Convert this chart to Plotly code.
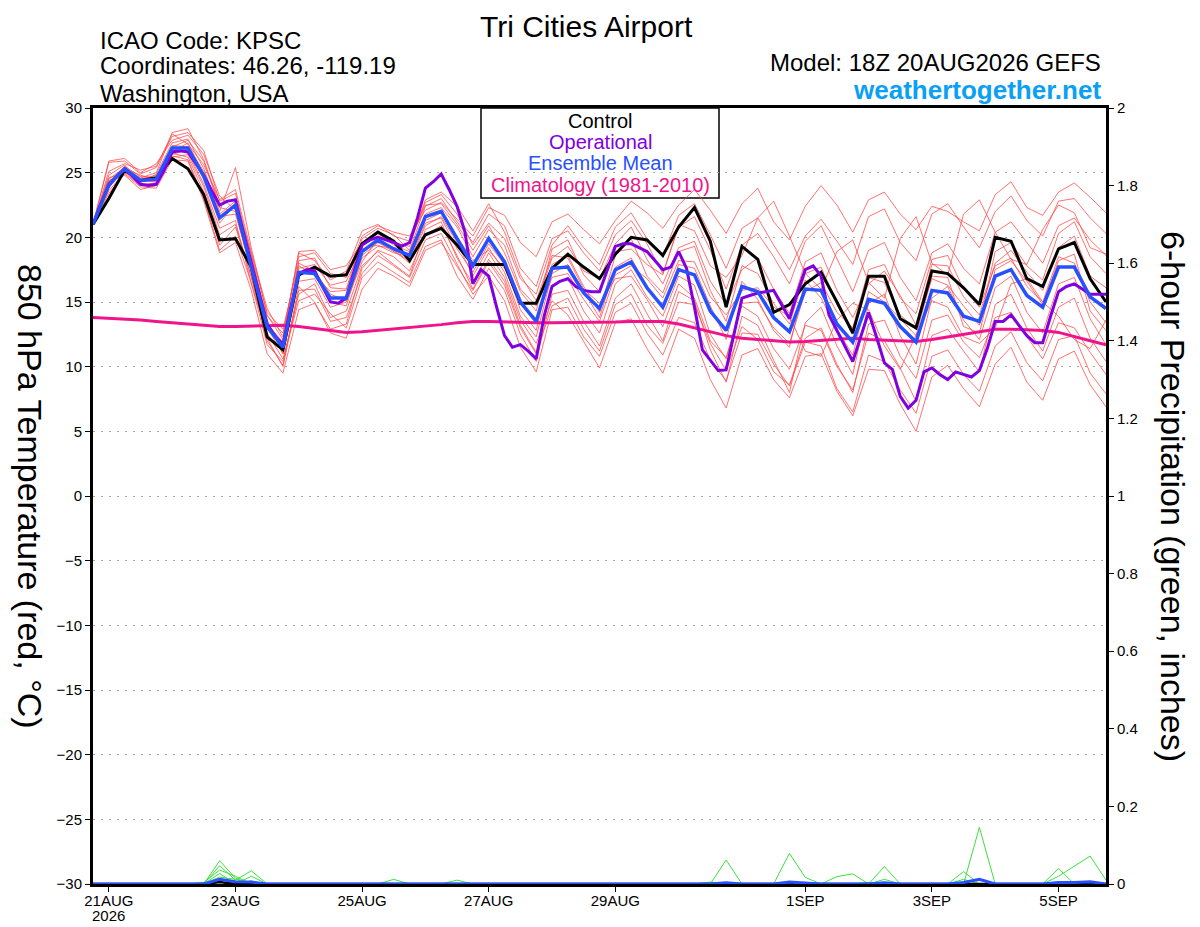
import pandas as pd
import plotly.graph_objects as go

# 6-hourly GEFS output from 18Z 20AUG2026 to 18Z 05SEP2026 (65 steps);
# the operational run is plotted at 3-hourly resolution (129 steps)
START = "2026-08-20 18:00"
times6 = pd.date_range(START, periods=65, freq="6h")
times3 = pd.date_range(START, periods=129, freq="3h")

control = [
    21.0,
    23.0, 25.2, 24.4, 24.6,
    26.1, 25.3, 23.3, 19.8,
    19.9, 17.7, 12.3, 11.3,
    17.1, 17.7, 17.0, 17.1,
    19.5, 20.4, 19.7, 18.2,
    20.2, 20.7, 19.4, 17.9,
    17.9, 17.9, 14.9, 14.9,
    17.6, 18.7, 17.7, 16.8,
    18.7, 20.0, 19.8, 18.6,
    20.8, 22.3, 19.7, 14.6,
    19.3, 18.3, 14.2, 14.8,
    16.4, 17.3, 15.0, 12.6,
    17.0, 17.0, 13.7, 13.0,
    17.4, 17.2, 16.1, 14.8,
    20.0, 19.7, 16.8, 16.2,
    19.1, 19.6, 16.8, 15.0,
]

ens_mean = [
    21.0,
    24.1, 25.3, 24.4, 24.5,
    26.9, 26.9, 24.7, 21.5,
    22.5, 17.7, 13.1, 11.5,
    17.3, 17.2, 15.3, 15.3,
    18.9, 19.8, 19.1, 18.6,
    21.6, 22.0, 19.9, 17.8,
    19.9, 18.1, 15.0, 13.5,
    17.6, 17.7, 15.7, 14.5,
    17.5, 18.1, 16.1, 14.6,
    17.5, 17.1, 14.3, 12.8,
    16.2, 15.8, 13.8, 12.7,
    16.0, 15.9, 13.3, 11.9,
    15.2, 14.9, 13.1, 11.9,
    15.9, 15.7, 13.9, 13.5,
    17.0, 17.5, 15.5, 14.6,
    17.7, 17.7, 15.4, 14.5,
]

operational = [
    21.0,
    22.6, 24.0, 24.7, 25.3, 24.7, 24.1, 24.0, 24.1,
    25.2, 26.6, 26.7, 26.6, 25.7, 24.8, 23.6, 22.5,
    22.8, 22.9, 20.4, 18.0, 15.6, 13.3, 12.4, 11.7,
    14.6, 17.2, 17.5, 17.4, 16.2, 15.0, 14.9, 15.3,
    17.4, 19.4, 19.8, 20.0, 19.8, 19.6, 19.3, 19.6,
    21.5, 23.8, 24.3, 24.9, 23.7, 22.4, 20.4, 16.4,
    17.5, 17.0, 14.6, 12.4, 11.5, 11.7, 11.2, 10.6,
    13.9, 16.2, 16.6, 16.8, 16.2, 15.9, 15.8, 15.8,
    17.5, 19.3, 19.5, 19.5, 19.2, 18.9, 18.2, 17.5,
    17.7, 18.9, 17.6, 14.6, 11.3, 10.5, 9.7, 9.75,
    12.5, 15.3, 15.5, 15.7, 15.8, 15.9, 14.8, 13.7,
    15.7, 17.5, 17.8, 17.0, 14.0, 12.8, 11.5, 10.4,
    12.3, 14.2, 12.3, 10.3, 9.8, 7.7, 6.8, 7.4,
    9.6, 9.9, 9.4, 9.0, 9.6, 9.4, 9.2, 9.7,
    11.4, 13.5, 13.5, 14.0, 13.2, 12.4, 11.85, 11.85,
    13.9, 15.8, 16.2, 16.4, 16.0, 15.6, 15.6, 15.6,
]

climatology = [
    13.8,
    13.75, 13.7, 13.6, 13.5,
    13.4, 13.3, 13.2, 13.1,
    13.1, 13.15, 13.2, 13.2,
    13.1, 12.95, 12.8, 12.65,
    12.7, 12.8, 12.9, 13.0,
    13.1, 13.25, 13.4, 13.5,
    13.5, 13.45, 13.4, 13.4,
    13.4, 13.4, 13.4, 13.4,
    13.45, 13.5, 13.5, 13.5,
    13.3, 13.0, 12.7, 12.4,
    12.2, 12.1, 12.0, 11.9,
    11.95, 12.05, 12.15, 12.2,
    12.1, 12.05, 12.0, 11.95,
    12.1, 12.3, 12.5, 12.7,
    12.9, 12.9, 12.85, 12.8,
    12.65, 12.3, 12.0, 11.7,
]

member_01 = [21.0, 25.8, 25.9, 24.9, 25.4, 27.8, 28.1, 26.7, 22.8, 23.4, 18.6, 13.6, 11.0,
             18.2, 18.4, 16.1, 16.0, 19.9, 20.7, 20.2, 19.0, 22.4, 23.0, 21.2, 19.6, 21.8, 20.9,
             17.6, 16.2, 19.9, 20.5, 18.8, 17.4, 20.2, 21.3, 19.5, 17.2, 20.8, 21.6, 19.0, 16.0,
             19.4, 20.3, 18.5, 16.4, 19.7, 20.9, 18.3, 15.8, 19.0, 19.6, 16.9, 15.1, 18.8, 19.5,
             17.6, 16.4, 20.4, 21.2, 19.6, 18.0, 20.9, 21.5, 19.8, 18.6]
member_02 = [21.0, 23.6, 25.0, 24.0, 24.1, 26.5, 26.2, 23.5, 19.4, 20.8, 16.9, 12.2, 10.0,
             15.9, 16.0, 13.5, 13.8, 17.2, 18.6, 17.8, 16.9, 19.8, 20.3, 18.0, 15.6, 17.0, 15.1,
             11.5, 9.6, 14.4, 14.6, 12.3, 10.8, 14.2, 14.9, 12.6, 10.9, 13.8, 13.4, 10.5, 8.9,
             12.6, 12.5, 10.2, 8.5, 11.9, 11.6, 8.3, 6.5, 10.9, 10.4, 8.2, 6.4, 10.8, 11.3,
             9.4, 8.1, 11.6, 12.7, 10.3, 8.9, 12.1, 12.4, 9.5, 7.9]
member_03 = [21.0, 24.8, 25.6, 24.2, 24.9, 27.3, 27.6, 25.3, 22.0, 25.4, 19.2, 14.0, 12.1,
             18.9, 19.0, 17.5, 17.8, 19.6, 20.1, 19.6, 19.3, 22.9, 23.5, 22.4, 20.5, 22.6, 20.4,
             17.1, 15.1, 18.6, 18.4, 16.0, 14.9, 16.8, 17.0, 15.2, 13.1, 16.4, 15.3, 12.0, 10.7,
             14.9, 15.0, 13.0, 11.8, 15.8, 16.5, 14.2, 13.0, 17.5, 17.9, 15.3, 14.1, 18.3, 18.6,
             16.0, 14.6, 17.8, 18.4, 16.2, 15.0, 18.5, 18.0, 15.0, 13.4]
member_04 = [21.0, 24.5, 25.4, 24.6, 25.0, 28.1, 28.4, 26.0, 22.5, 23.0, 18.0, 13.9, 12.6,
             18.5, 18.8, 17.2, 16.9, 20.1, 20.9, 20.4, 20.1, 22.1, 22.7, 21.4, 20.1, 22.3, 21.7,
             19.6, 18.5, 21.2, 21.8, 20.6, 19.5, 21.3, 22.8, 21.9, 20.7, 22.5, 23.7, 22.1, 20.3,
             22.6, 23.8, 21.2, 19.8, 22.4, 24.0, 22.5, 20.4, 22.9, 23.5, 21.8, 20.6, 22.4, 22.0,
             21.2, 20.5, 23.3, 24.3, 22.3, 21.7, 23.5, 24.2, 23.1, 21.9]
member_05 = [21.0, 23.4, 24.9, 23.9, 23.8, 26.0, 25.9, 22.8, 18.8, 19.6, 15.9, 11.0, 9.5,
             14.4, 14.9, 12.9, 13.3, 17.6, 19.0, 18.5, 17.4, 20.2, 20.9, 18.6, 16.0, 18.3, 16.6,
             13.2, 11.1, 16.3, 16.9, 14.3, 12.6, 16.4, 17.5, 15.4, 13.9, 17.0, 16.3, 12.5, 10.6,
             14.7, 13.9, 11.4, 9.8, 13.2, 12.8, 10.0, 8.2, 12.6, 12.0, 9.9, 7.3, 12.4, 12.9,
             11.2, 9.6, 14.8, 15.6, 13.0, 11.2, 14.6, 15.3, 12.2, 10.4]
member_06 = [21.0, 24.0, 25.1, 24.3, 24.4, 27.0, 27.5, 25.9, 22.3, 22.0, 17.3, 12.9, 11.9,
             17.8, 17.1, 15.8, 15.9, 19.3, 20.3, 19.4, 18.9, 21.8, 22.3, 20.8, 18.5, 20.6, 19.4,
             16.0, 14.7, 18.4, 19.3, 17.4, 16.8, 19.5, 20.8, 18.3, 16.4, 19.2, 19.7, 16.6, 14.8,
             17.5, 18.4, 16.0, 14.1, 18.1, 18.8, 15.9, 13.8, 16.4, 17.4, 15.5, 13.2, 17.9, 17.8,
             15.4, 14.0, 18.0, 19.0, 17.3, 15.9, 19.2, 20.1, 17.0, 16.1]
member_07 = [21.0, 24.3, 25.5, 24.7, 24.6, 26.7, 26.6, 24.1, 20.7, 21.3, 16.4, 12.6, 10.6,
             15.1, 15.6, 14.1, 13.0, 16.9, 18.1, 17.3, 16.5, 19.3, 19.8, 17.0, 15.2, 17.6, 15.9,
             12.5, 10.4, 15.6, 15.9, 13.5, 11.6, 15.3, 16.4, 14.1, 12.0, 15.8, 15.1, 11.3, 8.8,
             13.9, 13.2, 10.5, 8.0, 13.4, 14.6, 11.6, 9.4, 14.9, 15.6, 12.4, 10.2, 15.3, 16.2,
             13.6, 12.1, 16.1, 17.0, 14.2, 12.6, 16.4, 16.9, 13.7, 11.7]
member_08 = [21.0, 25.9, 26.1, 25.0, 25.7, 27.5, 27.9, 26.4, 23.2, 22.1, 18.3, 13.4, 11.2,
             17.0, 17.6, 15.0, 14.7, 18.6, 19.6, 18.9, 18.2, 21.1, 21.5, 19.1, 17.3, 19.5, 17.9,
             14.4, 12.8, 17.9, 18.6, 16.2, 14.2, 18.6, 19.9, 17.0, 15.7, 18.9, 19.3, 15.9, 13.5,
             17.8, 17.2, 14.9, 13.3, 17.2, 17.7, 14.8, 12.5, 16.9, 16.5, 14.0, 12.9, 16.8, 16.3,
             14.7, 13.2, 18.9, 19.6, 17.8, 16.7, 20.3, 21.2, 18.5, 17.2]
member_09 = [21.0, 23.9, 25.2, 24.1, 24.2, 26.3, 26.0, 23.0, 19.0, 20.1, 16.5, 11.7, 10.4,
             15.6, 16.4, 13.8, 14.3, 17.8, 18.9, 17.9, 17.0, 20.6, 21.2, 18.4, 16.4, 18.8, 16.9,
             13.6, 11.8, 15.1, 14.0, 11.9, 9.9, 13.4, 13.7, 11.4, 9.5, 12.9, 12.2, 9.0, 6.8,
             10.9, 11.4, 9.0, 7.6, 10.8, 11.0, 8.1, 6.2, 9.8, 9.7, 7.1, 5.0, 9.2, 10.1,
             8.3, 6.9, 10.2, 11.5, 8.8, 7.4, 10.6, 11.2, 8.6, 6.9]
member_10 = [21.0, 24.6, 25.0, 24.5, 24.8, 26.4, 26.8, 24.6, 21.1, 22.6, 17.9, 13.3, 11.9,
             17.6, 17.9, 16.3, 16.6, 19.1, 19.4, 18.8, 18.5, 21.3, 21.9, 20.1, 18.2, 19.0, 17.6,
             14.9, 13.7, 16.9, 17.2, 15.2, 13.5, 17.1, 17.8, 16.8, 15.3, 18.2, 18.1, 15.4, 14.0,
             15.9, 16.1, 14.6, 13.9, 11.2, 10.8, 13.6, 14.9, 14.4, 11.6, 9.8, 12.5, 15.1, 14.6,
             12.3, 11.8, 13.0, 16.4, 16.8, 15.0, 13.9, 12.1, 11.4, 13.6]
member_11 = [21.0, 24.2, 25.3, 24.8, 24.5, 27.1, 27.0, 25.1, 21.8, 22.8, 18.7, 14.2, 12.9,
             18.0, 17.4, 15.6, 15.1, 18.4, 19.3, 19.2, 19.6, 22.7, 23.3, 21.8, 19.4, 21.1, 19.9,
             16.8, 15.6, 19.4, 20.9, 19.2, 17.9, 20.8, 21.9, 19.9, 18.5, 21.7, 22.6, 20.2, 17.6,
             20.7, 21.5, 19.4, 17.5, 20.1, 21.4, 19.7, 17.9, 21.6, 22.2, 19.6, 18.2, 21.8, 22.6,
             20.8, 19.2, 22.0, 23.2, 21.3, 20.1, 22.8, 23.0, 21.5, 20.3]
member_12 = [21.0, 23.8, 25.4, 24.4, 24.3, 26.2, 26.4, 23.9, 20.2, 21.0, 17.0, 12.0, 10.1,
             16.2, 15.0, 12.6, 12.2, 16.0, 17.6, 17.0, 16.2, 19.0, 19.6, 17.7, 15.9, 18.1, 16.3,
             13.0, 11.0, 14.7, 15.3, 12.9, 11.2, 14.8, 15.6, 13.2, 11.8, 15.0, 14.8, 11.8, 9.7,
             13.1, 12.1, 9.6, 8.6, 12.2, 13.0, 10.2, 8.0, 13.3, 13.6, 10.8, 9.1, 13.6, 14.0,
             11.9, 10.7, 13.8, 14.2, 12.3, 10.6, 13.4, 13.0, 11.1, 9.4]
member_13 = [21.0, 25.1, 25.7, 25.2, 25.5, 28.0, 27.2, 25.6, 22.9, 23.7, 18.9, 14.5, 12.3,
             18.8, 18.2, 16.7, 17.4, 20.5, 21.0, 20.1, 19.7, 22.5, 22.6, 21.0, 19.0, 20.9, 18.8,
             15.8, 14.3, 19.1, 19.8, 17.1, 15.8, 18.9, 19.1, 17.9, 17.1, 21.0, 20.5, 17.8, 16.9,
             18.6, 21.5, 22.8, 20.1, 17.2, 16.0, 18.9, 19.8, 16.5, 15.3, 19.9, 21.6, 18.0, 17.1,
             21.8, 22.9, 20.4, 18.3, 17.9, 20.6, 22.5, 21.9, 19.2, 18.7]
member_14 = [21.0, 24.4, 24.8, 23.7, 24.0, 26.6, 27.3, 24.8, 21.6, 21.8, 17.6, 13.0, 11.0,
             16.6, 16.8, 14.6, 15.0, 18.1, 19.9, 19.0, 18.0, 20.9, 21.6, 19.6, 17.0, 19.2, 17.3,
             13.9, 12.3, 17.2, 17.9, 15.9, 13.8, 17.7, 18.4, 16.2, 14.5, 17.9, 17.6, 14.7, 12.1,
             16.6, 15.2, 12.8, 11.5, 16.7, 15.3, 12.9, 10.9, 15.8, 15.0, 13.7, 12.4, 17.0, 16.9,
             13.1, 12.6, 17.5, 18.2, 16.6, 14.8, 18.2, 18.7, 14.3, 12.8]

members = [member_01, member_02, member_03, member_04, member_05, member_06, member_07,
           member_08, member_09, member_10, member_11, member_12, member_13, member_14]

# 6-hour precipitation (inches): nonzero steps only, keyed by step index
precip_members_nonzero = [
    {8: 0.060, 9: 0.015, 40: 0.062, 56: 0.146},
    {8: 0.047, 9: 0.010, 10: 0.034, 44: 0.079, 45: 0.017, 61: 0.040},
    {7: 0.004, 8: 0.036, 9: 0.020, 19: 0.012, 47: 0.019, 48: 0.026, 55: 0.032},
    {8: 0.027, 10: 0.020, 23: 0.010, 50: 0.045, 61: 0.020, 62: 0.045, 63: 0.072, 64: 0.010},
    {8: 0.018, 9: 0.012, 50: 0.012, 55: 0.012},
    {8: 0.012, 10: 0.008, 39: 0.005, 49: 0.004},
]
precip_mean_nonzero = {8: 0.012, 9: 0.006, 10: 0.005, 40: 0.003, 44: 0.005, 45: 0.003,
                       50: 0.003, 55: 0.004, 56: 0.012, 61: 0.004, 62: 0.004, 63: 0.006}
precip_control_nonzero = {8: 0.005}

tick_dates = ["2026-08-21", "2026-08-23", "2026-08-25", "2026-08-27",
              "2026-08-29", "2026-09-01", "2026-09-03", "2026-09-05"]
tick_labels = ["21AUG", "23AUG", "25AUG", "27AUG", "29AUG", "1SEP", "3SEP", "5SEP"]
year_label = "2026"
temp_ticks = list(range(-30, 31, 5))
precip_ticks = [0, 0.2, 0.4, 0.6, 0.8, 1, 1.2, 1.4, 1.6, 1.8, 2]
precip_tick_text = ["0", "0.2", "0.4", "0.6", "0.8", "1", "1.2", "1.4", "1.6", "1.8", "2"]

FONT = "Liberation Sans, Arial, sans-serif"
C_OPER = "#8000E0"
C_MEAN = "#2850FF"
C_CLIM = "#F0148C"
C_MEMBER = "rgba(255,70,70,0.85)"
C_PRECIP = "#3CE03C"

# the page body adds an 8px margin, so the figure is 8px smaller than the window
W, H, BODY = 1200, 927, 8
# plot area in window pixels: x 93..1106, y 108..884
L, R, T, B = 93, 1106, 108, 884


def px(x):
    return (x - L) / (R - L)


def py(y):
    return (B - y) / (B - T)


def expand(nonzero):
    return [nonzero.get(i, 0.0) for i in range(len(times6))]


fig = go.Figure()

for m in members:
    fig.add_trace(go.Scatter(x=times6[:len(m)], y=m, mode="lines",
                             line=dict(color=C_MEMBER, width=0.9)))

fig.add_trace(go.Scatter(x=times6[:len(climatology)], y=climatology, mode="lines",
                         line=dict(color=C_CLIM, width=3)))
fig.add_trace(go.Scatter(x=times6[:len(control)], y=control, mode="lines",
                         line=dict(color="black", width=3)))
fig.add_trace(go.Scatter(x=times3[:len(operational)], y=operational, mode="lines",
                         line=dict(color=C_OPER, width=3)))
fig.add_trace(go.Scatter(x=times6[:len(ens_mean)], y=ens_mean, mode="lines",
                         line=dict(color=C_MEAN, width=3.5)))

for p in precip_members_nonzero:
    fig.add_trace(go.Scatter(x=times6, y=expand(p), mode="lines", yaxis="y2",
                             line=dict(color=C_PRECIP, width=1)))
fig.add_trace(go.Scatter(x=times6, y=expand(precip_control_nonzero), mode="lines", yaxis="y2",
                         line=dict(color="black", width=2.5)))
fig.add_trace(go.Scatter(x=times6, y=expand(precip_mean_nonzero), mode="lines", yaxis="y2",
                         line=dict(color=C_MEAN, width=3)))

annotations = [
    dict(text="Tri Cities Airport", x=px(586), y=py(27), font=dict(size=30)),
    dict(text="ICAO Code: KPSC", x=px(98), y=py(40), xanchor="left", font=dict(size=24)),
    dict(text="Coordinates: 46.26, -119.19", x=px(98), y=py(66), xanchor="left", font=dict(size=24)),
    dict(text="Washington, USA", x=px(98), y=py(93), xanchor="left", font=dict(size=24)),
    dict(text="Model: 18Z 20AUG2026 GEFS", x=px(1103), y=py(63), xanchor="right", font=dict(size=24)),
    dict(text="<b>weathertogether.net</b>", x=px(1103), y=py(90), xanchor="right",
         font=dict(size=26, color="#0AA0F5")),
    dict(text="Control", x=px(600), y=py(121), font=dict(size=20)),
    dict(text="Operational", x=px(600), y=py(142), font=dict(size=20, color=C_OPER)),
    dict(text="Ensemble Mean", x=px(600), y=py(163), font=dict(size=20, color=C_MEAN)),
    dict(text="Climatology (1981-2010)", x=px(600), y=py(185), font=dict(size=20, color=C_CLIM)),
    dict(text="850 hPa Temperature (red, °C)", x=px(30), y=py(496), textangle=90,
         font=dict(size=34)),
    dict(text="6-hour Precipitation (green, inches)", x=px(1173), y=py(496), textangle=90,
         font=dict(size=34)),
    dict(text=year_label, x=tick_dates[0], xref="x", y=py(915), font=dict(size=15)),
]
for a in annotations:
    a.setdefault("xanchor", "center")
    a.setdefault("xref", "paper")
    a.update(yref="paper", yanchor="middle", showarrow=False)
    a["font"] = dict(family=FONT, **{"color": "black", **a["font"]})

fig.update_layout(
    width=W - BODY,
    height=H - BODY,
    margin=dict(l=L - BODY, r=W - R, t=T - BODY, b=H - B, pad=0),
    paper_bgcolor="white",
    plot_bgcolor="white",
    showlegend=False,
    font=dict(family=FONT, size=15, color="black"),
    annotations=annotations,
    shapes=[dict(type="rect", xref="paper", yref="paper", x0=px(481), x1=px(719), y0=py(198), y1=py(108),
                 line=dict(color="black", width=1.5), fillcolor="white", layer="below")],
    xaxis=dict(
        type="date",
        range=[times6[0], times6[-1]],
        tickmode="array",
        tickvals=tick_dates,
        ticktext=tick_labels,
        ticks="outside",
        ticklen=5,
        tickcolor="black",
        ticklabelstandoff=-4,
        showgrid=False,
        zeroline=False,
        showline=True,
        mirror=True,
        linecolor="black",
        linewidth=3,
        automargin=False,
        tickfont=dict(size=15),
    ),
    yaxis=dict(
        range=[-30, 30],
        tickmode="array",
        tickvals=temp_ticks,
        ticks="outside",
        ticklen=5,
        tickcolor="black",
        showgrid=True,
        gridcolor="#a8a8a8",
        gridwidth=1,
        griddash="2px,6px",
        zeroline=False,
        showline=True,
        linecolor="black",
        linewidth=3,
        automargin=False,
        tickfont=dict(size=15),
    ),
    yaxis2=dict(
        overlaying="y",
        side="right",
        range=[0, 2],
        tickmode="array",
        tickvals=precip_ticks,
        ticktext=precip_tick_text,
        ticks="outside",
        ticklen=5,
        tickcolor="black",
        showgrid=False,
        zeroline=False,
        showline=True,
        linecolor="black",
        linewidth=3,
        automargin=False,
        tickfont=dict(size=15),
    ),
)

fig.write_html("out.html")
